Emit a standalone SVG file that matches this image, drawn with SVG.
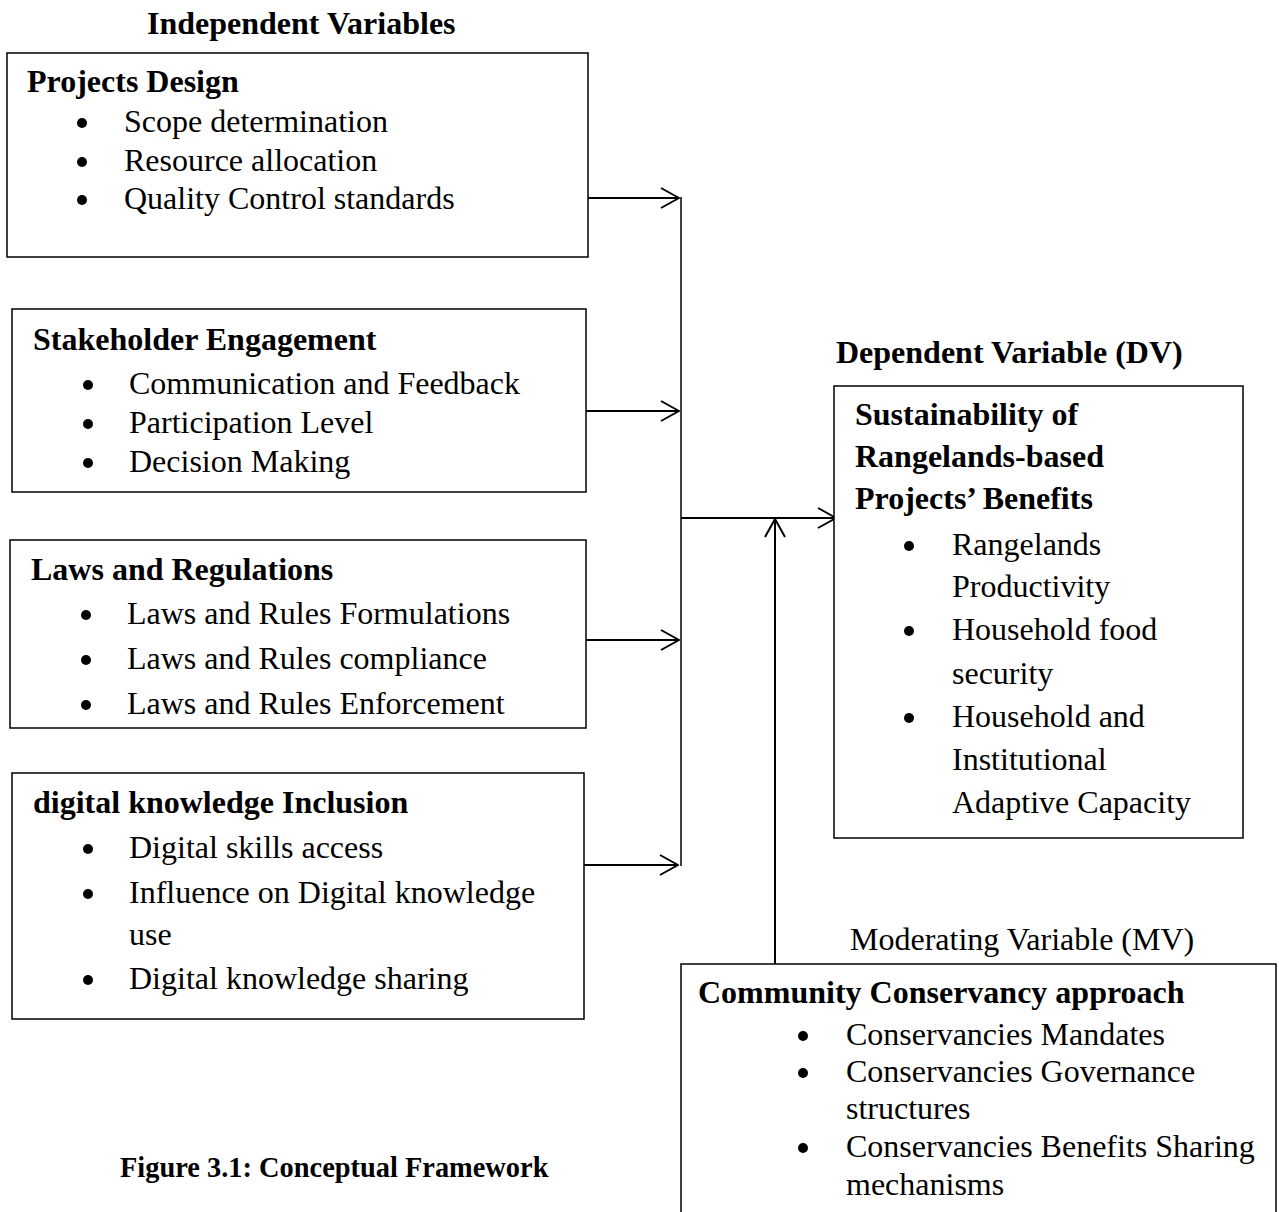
<svg xmlns="http://www.w3.org/2000/svg" width="1279" height="1212" viewBox="0 0 1279 1212">
<style>
text{font-family:"Liberation Serif","Times New Roman",serif;font-size:32px;fill:#000}
.b{font-weight:bold}
.box{fill:#fff;stroke:#000;stroke-width:1.5}
.dot{fill:#000}
.c{fill:none;stroke:#000;stroke-width:2}
.v{fill:none;stroke:#000;stroke-width:1.5}
</style>
<defs>
<marker id="ah" viewBox="0 0 20 22" refX="19" refY="11" markerWidth="20" markerHeight="22" markerUnits="userSpaceOnUse" orient="auto">
<path d="M1,1 L19,11 L1,21" fill="none" stroke="#000" stroke-width="2"/>
</marker>
</defs>
<rect width="1279" height="1212" fill="#fff"/>
<text class="b" x="147" y="34">Independent Variables</text>
<text class="b" x="836" y="363">Dependent Variable (DV)</text>
<text x="850" y="950">Moderating Variable (MV)</text>
<text class="b" x="120" y="1177" style="font-size:28.4px">Figure 3.1: Conceptual Framework</text>

<g id="connectors">
<line class="c" x1="588" y1="198" x2="679" y2="198" marker-end="url(#ah)"/>
<line class="c" x1="586" y1="411" x2="679" y2="411" marker-end="url(#ah)"/>
<line class="c" x1="586" y1="640" x2="679" y2="640" marker-end="url(#ah)"/>
<line class="c" x1="584" y1="865" x2="678" y2="865" marker-end="url(#ah)"/>
<line class="v" x1="681" y1="197" x2="681" y2="866"/>
<line class="c" x1="681" y1="518" x2="836" y2="518" marker-end="url(#ah)"/>
<line class="c" x1="775" y1="964" x2="775" y2="519" marker-end="url(#ah)"/>
</g>

<g id="projects-design">
<rect class="box" x="7" y="53" width="581" height="204"/>
<text class="b" x="27" y="92">Projects Design</text>
<circle class="dot" cx="82" cy="123" r="5"/><text x="124" y="132">Scope determination</text>
<circle class="dot" cx="82" cy="162" r="5"/><text x="124" y="171">Resource allocation</text>
<circle class="dot" cx="82" cy="200" r="5"/><text x="124" y="209">Quality Control standards</text>
</g>

<g id="stakeholder-engagement">
<rect class="box" x="12" y="309" width="574" height="183"/>
<text class="b" x="33" y="350">Stakeholder Engagement</text>
<circle class="dot" cx="88" cy="385" r="5"/><text x="129" y="394">Communication and Feedback</text>
<circle class="dot" cx="88" cy="424" r="5"/><text x="129" y="433">Participation Level</text>
<circle class="dot" cx="88" cy="463" r="5"/><text x="129" y="472">Decision Making</text>
</g>

<g id="laws-regulations">
<rect class="box" x="10" y="540" width="576" height="188"/>
<text class="b" x="31" y="580">Laws and Regulations</text>
<circle class="dot" cx="86" cy="615" r="5"/><text x="127" y="624">Laws and Rules Formulations</text>
<circle class="dot" cx="86" cy="660" r="5"/><text x="127" y="669">Laws and Rules compliance</text>
<circle class="dot" cx="86" cy="705" r="5"/><text x="127" y="714">Laws and Rules Enforcement</text>
</g>

<g id="digital-knowledge">
<rect class="box" x="12" y="773" width="572" height="246"/>
<text class="b" x="33" y="813">digital knowledge Inclusion</text>
<circle class="dot" cx="88" cy="849" r="5"/><text x="129" y="858">Digital skills access</text>
<circle class="dot" cx="88" cy="894" r="5"/><text x="129" y="903">Influence on Digital knowledge</text>
<text x="129" y="945">use</text>
<circle class="dot" cx="88" cy="980" r="5"/><text x="129" y="989">Digital knowledge sharing</text>
</g>

<g id="dependent-variable">
<rect class="box" x="834" y="386" width="409" height="452"/>
<text class="b" x="855" y="425">Sustainability of</text>
<text class="b" x="855" y="467">Rangelands-based</text>
<text class="b" x="855" y="509">Projects’ Benefits</text>
<circle class="dot" cx="909" cy="546" r="5"/><text x="952" y="555">Rangelands</text>
<text x="952" y="597">Productivity</text>
<circle class="dot" cx="909" cy="631" r="5"/><text x="952" y="640">Household food</text>
<text x="952" y="684">security</text>
<circle class="dot" cx="909" cy="718" r="5"/><text x="952" y="727">Household and</text>
<text x="952" y="770">Institutional</text>
<text x="952" y="813">Adaptive Capacity</text>
</g>

<g id="moderating-variable">
<rect class="box" x="681" y="964" width="595" height="260"/>
<text class="b" x="698" y="1003">Community Conservancy approach</text>
<circle class="dot" cx="803" cy="1036" r="5"/><text x="846" y="1045">Conservancies Mandates</text>
<circle class="dot" cx="803" cy="1073" r="5"/><text x="846" y="1082">Conservancies Governance</text>
<text x="846" y="1119">structures</text>
<circle class="dot" cx="803" cy="1148" r="5"/><text x="846" y="1157">Conservancies Benefits Sharing</text>
<text x="846" y="1195">mechanisms</text>
</g>
</svg>
